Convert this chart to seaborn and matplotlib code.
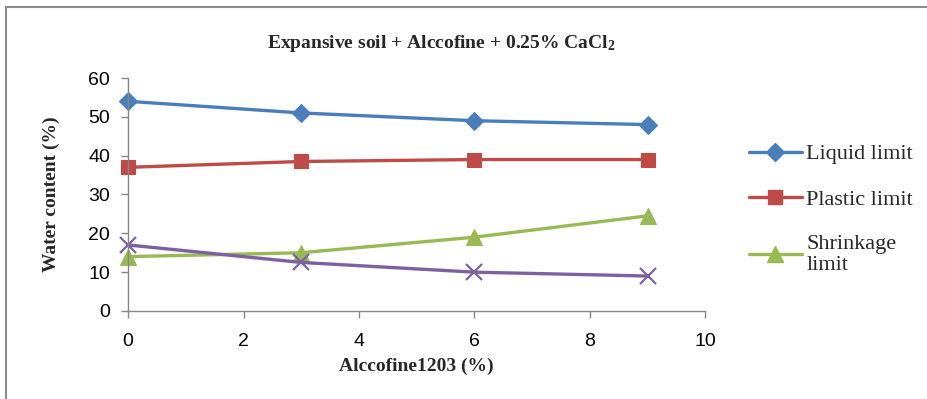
import matplotlib
matplotlib.use("Agg")
import matplotlib.pyplot as plt
import seaborn as sns
import pandas as pd
from matplotlib.lines import Line2D
from matplotlib.patches import Rectangle

# ---- data ----
alccofine = [0, 3, 6, 9]
liquid_limit = [54, 51, 49, 48]
plastic_limit = [37, 38.5, 39, 39]
shrinkage_limit = [14, 15, 19, 24.5]
fourth_series = [17, 12.5, 10, 9]
x_ticks = [0, 2, 4, 6, 8, 10]
y_ticks = [0, 10, 20, 30, 40, 50, 60]

sns.set_theme(style="white")
plt.rcParams['font.family'] = ['Liberation Serif', 'DejaVu Serif']
plt.rcParams['mathtext.fontset'] = 'custom'
plt.rcParams['mathtext.rm'] = 'Liberation Serif:bold'
plt.rcParams['mathtext.it'] = 'Liberation Serif:bold'
plt.rcParams['mathtext.bf'] = 'Liberation Serif:bold'

fig = plt.figure(figsize=(9.28, 3.99), dpi=100)
ax = fig.add_axes([0.138, 0.2206, 0.622, 0.5839])

series = [
    ("Liquid limit", liquid_limit, "#4A7EBB", "D", 9),
    ("Plastic limit", plastic_limit, "#BE4B48", "s", 10),
    ("Shrinkage\nlimit", shrinkage_limit, "#98B954", "^", 11),
    ("_nolegend_", fourth_series, "#7D60A0", "x", 11),
]
handles = []
for name, vals, col, mk, ms in series:
    df = pd.DataFrame({"x": alccofine, "y": vals})
    sns.lineplot(data=df, x="x", y="y", ax=ax, color=col, linewidth=2.4,
                 marker=mk, markersize=ms, markeredgecolor=col,
                 markeredgewidth=1.6 if mk == "x" else 0.8, legend=False,
                 clip_on=False)
    if not name.startswith("_"):
        handles.append(Line2D([0], [0], color=col, lw=2.4, marker=mk,
                              markersize=ms, markeredgecolor=col, label=name))

ax.set_xlim(0, 10)
ax.set_ylim(0, 60)
ax.set_xticks(x_ticks)
ax.set_yticks(y_ticks)
ax.set_xticklabels([str(v) for v in x_ticks], fontfamily='Liberation Sans', fontsize=14)
ax.set_yticklabels([str(v) for v in y_ticks], fontfamily='Liberation Sans', fontsize=14)
for s in ["top", "right"]:
    ax.spines[s].set_visible(False)
for s in ["left", "bottom"]:
    ax.spines[s].set_color("#868686")
    ax.spines[s].set_linewidth(1.0)
ax.tick_params(axis="both", direction="out", length=5, width=1, color="#868686",
               bottom=True, left=True, labelcolor="black")
ax.tick_params(axis="x", pad=11)
ax.tick_params(axis="y", pad=8)
ax.set_xlabel("Alccofine1203 (%)", fontsize=14, fontweight="bold")
ax.set_ylabel("Water content (%)", fontsize=14, fontweight="bold")
ax.xaxis.set_label_coords(0.5, -0.2)
ax.yaxis.set_label_coords(-0.118, 0.5)
ax.grid(False)

fig.text(0.475, 0.89, r"Expansive soil + Alccofine + 0.25% CaCl$_{2}$",
         ha="center", va="center", fontsize=14, fontweight="bold")

leg = fig.legend(handles=handles, loc="upper left", bbox_to_anchor=(0.797, 0.662),
                 frameon=False, fontsize=16, handlelength=2.4, handletextpad=0.2,
                 labelspacing=1.12, borderaxespad=0)

fig.patches.append(Rectangle((0.006, -0.1), 1.2, 1.082, transform=fig.transFigure,
                             fill=False, edgecolor="#8c8c8c", linewidth=1.5))

fig.savefig("out.png", dpi=100)
